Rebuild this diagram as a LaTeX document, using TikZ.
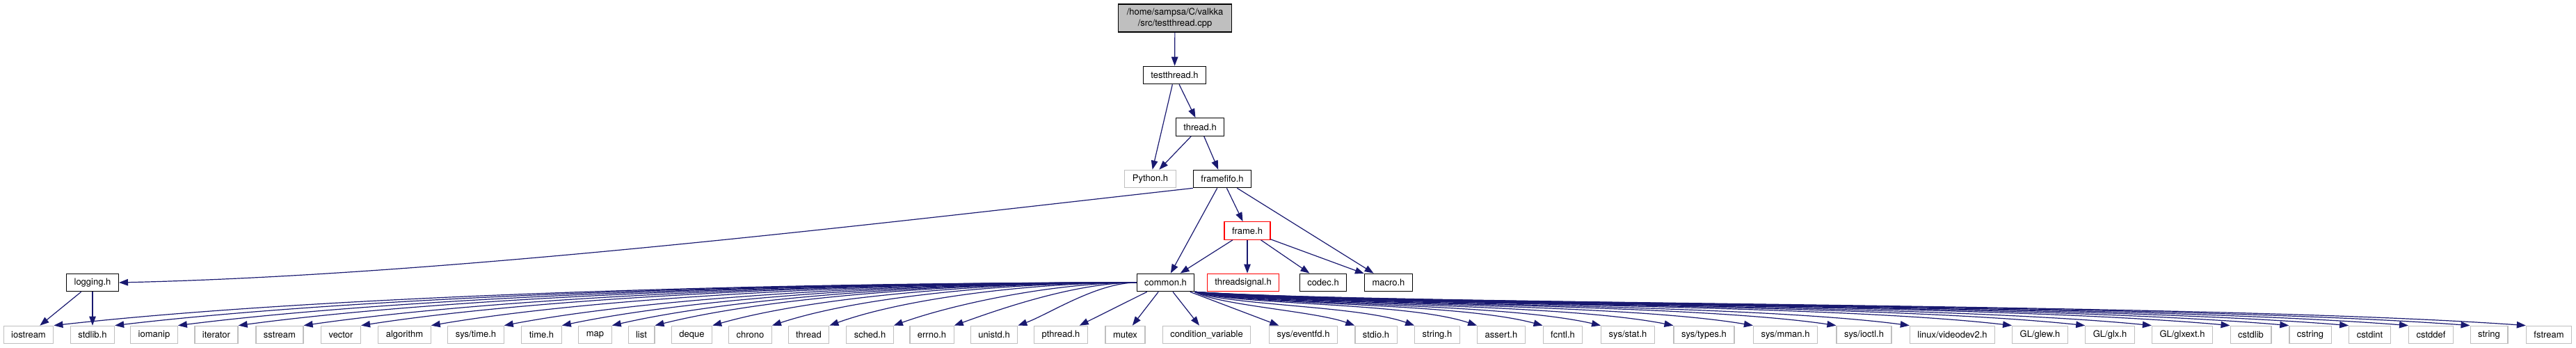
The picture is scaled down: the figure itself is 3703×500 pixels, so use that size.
\documentclass[tikz,border=0pt]{standalone}
\usepackage{fontspec}
\setmainfont{TeX Gyre Heros}
\usepackage{tikz}
\usetikzlibrary{arrows.meta,calc}

\definecolor{edgeBlue}{HTML}{191970}
\definecolor{extGrey}{HTML}{BFBFBF}
\definecolor{cutRed}{HTML}{FF0000}

\begin{document}
\begin{tikzpicture}[
    x=1pt, y=-1pt,
    font=\fontsize{13}{15.5}\selectfont,
    fileBox/.style={
        rectangle, draw=black, line width=1.2pt, fill=white,
        minimum height=25.5pt, inner xsep=11pt, inner ysep=2pt
    },
    extBox/.style={fileBox, draw=extGrey},
    cutBox/.style={fileBox, draw=cutRed},
    rootBox/.style={
        fileBox, fill=extGrey, minimum height=40pt, align=center, inner xsep=12pt
    },
    depEdge/.style={
        -{Triangle[length=13pt, width=9.5pt]}, line width=1.2pt, draw=edgeBlue
    },
    fanLeft/.style={
        depEdge,
        to path={let \p1=(\tikztostart), \p2=(\tikztotarget),
                     \n1={min(0.09*abs(\x2-\x1), 0.7*abs(\y2-\y1))} in
            .. controls ({(2*\x1+\x2)/3}, \y1) and ({(\x1+3*\x2)/4}, {\y2+\n1}) .. (\tikztotarget) \tikztonodes}
    },
    fanRight/.style={
        depEdge,
        to path={let \p1=(\tikztostart), \p2=(\tikztotarget),
                     \n1={min(0.09*abs(\x2-\x1), 0.7*abs(\y2-\y1))} in
            .. controls ({0.85*\x1+0.15*\x2}, {0.6*\y1+0.4*\y2}) and ({(\x1+3*\x2)/4}, {\y2+\n1}) .. (\tikztotarget) \tikztonodes}
    }
]
\useasboundingbox (0,0) rectangle (3703,500);

% Rank 0: the source file
\node[rootBox] (rootFile) at (1689, 26) {/home/sampsa/C/valkka\\/src/testthread.cpp};

% Ranks 1-3: project headers
\node[fileBox] (testthreadH) at (1688.5, 108) {testthread.h};
\node[fileBox] (threadH) at (1725, 182.5) {thread.h};
\node[extBox] (pythonH) at (1653.5, 257) {Python.h};
\node[fileBox] (framefifoH) at (1757, 257) {framefifo.h};
\node[cutBox] (frameH) at (1793, 331.5) {frame.h};

% Rank 4
\node[fileBox] (loggingH) at (133, 406) {logging.h};
\node[fileBox] (commonH) at (1675.5, 406) {common.h};
\node[cutBox] (threadsignalH) at (1787, 406) {threadsignal.h};
\node[fileBox] (codecH) at (1902, 406) {codec.h};
\node[fileBox] (macroH) at (1996, 406) {macro.h};

% Rank 5: system and library headers
\node[extBox] (iostream) at (41, 481) {iostream};
\node[extBox] (stdlibH) at (133, 481) {stdlib.h};
\node[extBox] (iomanip) at (221.5, 481) {iomanip};
\node[extBox] (iterator) at (311, 481) {iterator};
\node[extBox] (sstream) at (402, 481) {sstream};
\node[extBox] (vector) at (490, 481) {vector};
\node[extBox] (algorithm) at (581.5, 481) {algorithm};
\node[extBox] (systimeH) at (684, 481) {sys/time.h};
\node[extBox] (timeH) at (778.5, 481) {time.h};
\node[extBox] (map) at (855.5, 481) {map};
\node[extBox] (list) at (922, 481) {list};
\node[extBox] (deque) at (994.5, 481) {deque};
\node[extBox] (chrono) at (1078.5, 481) {chrono};
\node[extBox] (thread) at (1162.5, 481) {thread};
\node[extBox] (schedH) at (1250.5, 481) {sched.h};
\node[extBox] (errnoH) at (1339.5, 481) {errno.h};
\node[extBox] (unistdH) at (1429, 481) {unistd.h};
\node[extBox] (pthreadH) at (1525, 481) {pthread.h};
\node[extBox] (mutex) at (1617.5, 481) {mutex};
\node[extBox] (condVar) at (1734.5, 481) {condition\_variable};
\node[extBox] (eventfdH) at (1873.5, 481) {sys/eventfd.h};
\node[extBox] (stdioH) at (1978, 481) {stdio.h};
\node[extBox] (stringH) at (2066, 481) {string.h};
\node[extBox] (assertH) at (2158, 481) {assert.h};
\node[extBox] (fcntlH) at (2246.5, 481) {fcntl.h};
\node[extBox] (statH) at (2340, 481) {sys/stat.h};
\node[extBox] (typesH) at (2449.5, 481) {sys/types.h};
\node[extBox] (mmanH) at (2566.5, 481) {sys/mman.h};
\node[extBox] (ioctlH) at (2679.5, 481) {sys/ioctl.h};
\node[extBox] (videodevH) at (2806.5, 481) {linux/videodev2.h};
\node[extBox] (glewH) at (2932.5, 481) {GL/glew.h};
\node[extBox] (glxH) at (3033, 481) {GL/glx.h};
\node[extBox] (glxextH) at (3137, 481) {GL/glxext.h};
\node[extBox] (cstdlib) at (3235.5, 481) {cstdlib};
\node[extBox] (cstring) at (3321, 481) {cstring};
\node[extBox] (cstdint) at (3406.5, 481) {cstdint};
\node[extBox] (cstddef) at (3494.5, 481) {cstddef};
\node[extBox] (string) at (3578, 481) {string};
\node[extBox] (fstream) at (3664, 481) {fstream};

% Upper includes
\draw[depEdge] (rootFile) -- (testthreadH);
\draw[depEdge] (testthreadH) -- (pythonH);
\draw[depEdge] (testthreadH) -- (threadH);
\draw[depEdge] (threadH) -- (pythonH);
\draw[depEdge] (threadH) -- (framefifoH);
\draw[depEdge] (framefifoH) -- (frameH);
\draw[depEdge] (framefifoH) -- (commonH);
\draw[depEdge] (framefifoH) -- (macroH);
\draw[depEdge] (framefifoH.south west) .. controls +(-465, 52) and +(480, -11) .. (loggingH.east);
\draw[depEdge] (frameH) -- (commonH);
\draw[depEdge] (frameH.south) -- (frameH.south |- threadsignalH.north);
\draw[depEdge] (frameH) -- (codecH);
\draw[depEdge] (frameH) -- (macroH);

% logging.h
\draw[depEdge] (loggingH) -- (iostream);
\draw[depEdge] (loggingH) -- (stdlibH);

% common.h, fanning out to the left
\draw[fanLeft] (commonH.west) to (iostream.north east);
\draw[fanLeft] (commonH.west) to (stdlibH.north east);
\draw[fanLeft] (commonH.west) to (iomanip.north east);
\draw[fanLeft] (commonH.west) to (iterator.north east);
\draw[fanLeft] (commonH.west) to (sstream.north east);
\draw[fanLeft] (commonH.west) to (vector.north east);
\draw[fanLeft] (commonH.west) to (algorithm.north east);
\draw[fanLeft] (commonH.west) to (systimeH.north east);
\draw[fanLeft] (commonH.west) to (timeH.north east);
\draw[fanLeft] (commonH.west) to (map.north east);
\draw[fanLeft] (commonH.west) to (list.north east);
\draw[fanLeft] (commonH.west) to (deque.north east);
\draw[fanLeft] (commonH.west) to (chrono.north east);
\draw[fanLeft] (commonH.west) to (thread.north east);
\draw[fanLeft] (commonH.west) to (schedH.north east);
\draw[fanLeft] (commonH.west) to (errnoH.north east);
\draw[fanLeft] (commonH.west) to (unistdH.north east);

% common.h, straight down
\draw[depEdge] (commonH) -- (pthreadH);
\draw[depEdge] (commonH) -- (mutex);
\draw[depEdge] (commonH) -- (condVar);
\draw[depEdge] (commonH) -- (eventfdH);

% common.h, fanning out to the right
\draw[fanRight] (commonH.south east) to (stdioH.north west);
\draw[fanRight] (commonH.south east) to (stringH.north west);
\draw[fanRight] (commonH.south east) to (assertH.north west);
\draw[fanRight] (commonH.south east) to (fcntlH.north west);
\draw[fanRight] (commonH.south east) to (statH.north west);
\draw[fanRight] (commonH.south east) to (typesH.north west);
\draw[fanRight] (commonH.south east) to (mmanH.north west);
\draw[fanRight] (commonH.south east) to (ioctlH.north west);
\draw[fanRight] (commonH.south east) to (videodevH.north west);
\draw[fanRight] (commonH.south east) to (glewH.north west);
\draw[fanRight] (commonH.south east) to (glxH.north west);
\draw[fanRight] (commonH.south east) to (glxextH.north west);
\draw[fanRight] (commonH.south east) to (cstdlib.north west);
\draw[fanRight] (commonH.south east) to (cstring.north west);
\draw[fanRight] (commonH.south east) to (cstdint.north west);
\draw[fanRight] (commonH.south east) to (cstddef.north west);
\draw[fanRight] (commonH.south east) to (string.north west);
\draw[fanRight] (commonH.south east) to (fstream.north west);

\end{tikzpicture}
\end{document}
